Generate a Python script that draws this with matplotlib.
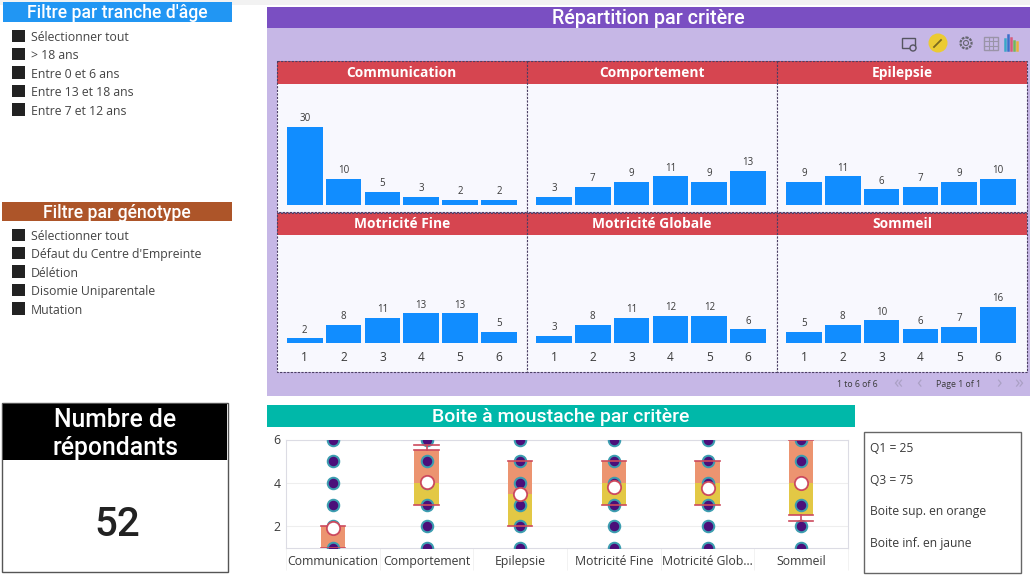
import matplotlib
matplotlib.use('Agg')
import matplotlib.pyplot as plt
from matplotlib.patches import Rectangle, Circle
import numpy as np

W, H = 1030, 582

age_items = ['Sélectionner tout', '> 18 ans', 'Entre 0 et 6 ans', 'Entre 13 et 18 ans', 'Entre 7 et 12 ans']
geno_items = ['Sélectionner tout', "Défaut du Centre d'Empreinte", 'Délétion', 'Disomie Uniparentale', 'Mutation']

x_bars = [1, 2, 3, 4, 5, 6]
communication = [30, 10, 5, 3, 2, 2]
comportement = [3, 7, 9, 11, 9, 13]
epilepsie = [9, 11, 6, 7, 9, 10]
motricite_fine = [2, 8, 11, 13, 13, 5]
motricite_globale = [3, 8, 11, 12, 12, 6]
sommeil = [5, 8, 10, 6, 7, 16]

box_labels = ['Communication', 'Comportement', 'Epilepsie', 'Motricité Fine', 'Motricité Glob...', 'Sommeil']
q1 = [1, 3, 2, 3, 3, 2.5]
med = [1, 4, 3.5, 4, 4, 4]
q3 = [2, 5.5, 5, 5, 5, 6]
whisk_low = [1, 3, 2, 3, 3, 2.25]
whisk_high = [2, 5.75, 5, 5, 5, 6]
means = [1.9, 4.05, 3.5, 3.8, 3.75, 4.0]
dot_levels = [1, 2, 3, 4, 5, 6]

notes = ['Q1 = 25', 'Q3 = 75', 'Boite sup. en orange', 'Boite inf. en jaune']

TXT = '#3a3a3a'
BLUE = '#118DFF'
RED = '#D64550'
UI = 'Open Sans'
HEAD = 'Roboto'

fig = plt.figure(figsize=(W / 100, H / 100), dpi=100, facecolor='white')


def px_axes(l, t, r, b, **kw):
    return fig.add_axes([l / W, 1 - b / H, (r - l) / W, (b - t) / H], **kw)


# background layer in pixel coordinates
bg = fig.add_axes([0, 0, 1, 1], zorder=0)
bg.set_xlim(0, W)
bg.set_ylim(H, 0)
bg.axis('off')


def rect(l, t, r, b, **kw):
    kw.setdefault('lw', 0)
    bg.add_patch(Rectangle((l, t), r - l, b - t, **kw))


def header(l, t, r, b, color, text, size, weight='medium', family=HEAD):
    rect(l, t, r, b, fc=color)
    bg.text((l + r) / 2, (t + b) / 2 + 1, text, color='white', fontsize=size, ha='center',
            va='center', family=family, fontweight=weight)


def slicer(items, y0):
    for i, s in enumerate(items):
        y = y0 + i * 18.4
        rect(12, y - 6.5, 25, y + 6, fc='#222222')
        bg.text(31, y + 1.5, s, fontsize=8.8, color='#444444', family=UI, va='center')


rect(0, 0, W, 5, fc='#f2f2f2')

# slicers
header(3, 2, 232, 22, '#2196F3', "Filtre par tranche d'âge", 12.7)
slicer(age_items, 36)
header(2, 202, 232, 221, '#AD5529', 'Filtre par génotype', 12.7)
slicer(geno_items, 235)

# respondents card
rect(2, 403, 228, 572, fc='white', ec='#555555', lw=1)
rect(3, 404, 227, 460, fc='black')
bg.text(115, 434, 'Numbre de\nrépondants', color='white', fontsize=17.8, ha='center', va='center',
        family=HEAD, fontweight='medium', linespacing=1.2)
bg.text(117, 525, '52', color='#222222', fontsize=29, ha='center', va='center', family=HEAD,
        fontweight='medium')

# small multiples panel
rect(267, 28, 1030, 396, fc='#C6B7E6')
header(267, 7, 1030, 28, '#7A4FC2', 'Répartition par critère', 14.2)

col_x = [(277, 526.5), (527, 776.5), (777, 1027)]
rows = [(61, 84, 212, 205, 2.6), (213, 235, 372, 343, 2.27)]
panels = [('Communication', communication), ('Comportement', comportement), ('Epilepsie', epilepsie),
          ('Motricité Fine', motricite_fine), ('Motricité Globale', motricite_globale), ('Sommeil', sommeil)]

for i, (name, vals) in enumerate(panels):
    l, r = col_x[i % 3]
    t, hb, b, base, scale = rows[i // 3]
    rect(l, hb, r, b, fc='#F8F8FE')
    rect(l, t, r, hb, fc=RED)
    bg.text((l + r) / 2, (t + hb) / 2 + 0.5, name, color='white', fontsize=9.9, ha='center', va='center',
            family=UI, fontweight='bold')
    bg.add_patch(Rectangle((l, t), r - l, b - t, fc='none', ec='#4b3f63', lw=0.8, ls=(0, (2, 1.2))))

    a_l = l + 8.3 if i % 3 == 0 else l + 7.5
    ax = px_axes(a_l, hb, a_l + 233, base, zorder=2)
    ax.patch.set_alpha(0)
    ax.bar(x_bars, vals, width=0.92, color=BLUE)
    ax.set_xlim(0.5, 6.5)
    ax.set_ylim(0, (base - hb) / scale)
    for s in ax.spines.values():
        s.set_visible(False)
    ax.set_yticks([])
    for xv, v in zip(x_bars, vals):
        ax.annotate(str(v), (xv, v), xytext=(0, 2), textcoords='offset points', ha='center', va='bottom',
                    fontsize=7, color=TXT, family=UI)
    if i // 3 == 1:
        ax.set_xticks(x_bars)
        ax.tick_params(axis='x', length=0, pad=6, labelsize=8.6, labelcolor=TXT)
        for lab in ax.get_xticklabels():
            lab.set_family(UI)
    else:
        ax.set_xticks([])

# pagination
bg.text(857, 384.5, '1 to 6 of 6', fontsize=6.3, color=TXT, ha='center', va='center', family=UI)
bg.text(958, 384.5, 'Page 1 of 1', fontsize=6.3, color=TXT, ha='center', va='center', family=UI)
for xp, s in [(898, '«'), (919, '‹'), (999, '›'), (1019, '»')]:
    bg.text(xp, 383, s, fontsize=13, color='#aaa0c4', ha='center', va='center', family=UI)

# toolbar icons
rect(902, 38, 915, 48, fc='none', ec='#555560', lw=1)
bg.add_patch(Circle((913, 48), 3, fc='#C6B7E6', ec='#555560', lw=1))
bg.add_patch(Circle((938, 43), 9.5, fc='#EBCB33', lw=0))
bg.plot([934, 941], [47, 40], color='#7a6a20', lw=1.3)
bg.add_patch(Circle((966, 43), 5.5, fc='none', ec='#666670', lw=1.6, ls=(0, (1.2, 0.5))))
bg.add_patch(Circle((966, 43), 2.5, fc='none', ec='#666670', lw=0.8))
rect(984, 37, 998, 50, fc='none', ec='#9a94a8', lw=1)
bg.plot([988.7, 988.7], [37, 50], color='#9a94a8', lw=0.8)
bg.plot([993.3, 993.3], [37, 50], color='#9a94a8', lw=0.8)
bg.plot([984, 998], [41.3, 41.3], color='#9a94a8', lw=0.8)
bg.plot([984, 998], [45.7, 45.7], color='#9a94a8', lw=0.8)
for xp, top, c in [(1005, 39, '#3aa6c9'), (1008, 35, '#3a6fc9'), (1011, 38, '#d65a7a'),
                   (1014, 41, '#6fb85a'), (1017, 42, '#e8b23a')]:
    bg.plot([xp, xp], [top, 50], color=c, lw=1.8)

# box plot
header(267, 405, 855, 427, '#00B8A9', 'Boite à moustache par critère', 14)

ax = px_axes(286, 439.5, 848, 548, zorder=2)
ax.set_xlim(-0.5, 5.5)
ax.set_ylim(1, 6)
xs = np.arange(len(box_labels))
ax.yaxis.grid(True, color='#eeeeee', lw=0.8)
ax.set_axisbelow(True)
ax.bar(xs, np.array(med) - np.array(q1), bottom=q1, width=0.26, color='#E3C845', zorder=2)
ax.bar(xs, np.array(q3) - np.array(med), bottom=med, width=0.26, color='#EC9470', zorder=2)
for x in xs:
    ax.scatter([x] * len(dot_levels), dot_levels, s=76, color='#3B9DB0', zorder=3)
    ax.scatter([x] * len(dot_levels), dot_levels, s=34, color='#4B0F7A', zorder=4)
    for v in (q1[x], q3[x]):
        ax.plot([x - 0.13, x + 0.13], [v, v], color='#CC4A5E', lw=1.2, zorder=5)
    ax.plot([x, x], [q3[x], whisk_high[x]], color='#CC4A5E', lw=1.2, zorder=5)
    ax.plot([x, x], [whisk_low[x], q1[x]], color='#CC4A5E', lw=1.2, zorder=5)
    if whisk_high[x] != q3[x]:
        ax.plot([x - 0.13, x + 0.13], [whisk_high[x]] * 2, color='#CC4A5E', lw=1.2, zorder=5)
    if whisk_low[x] != q1[x]:
        ax.plot([x - 0.13, x + 0.13], [whisk_low[x]] * 2, color='#CC4A5E', lw=1.2, zorder=5)
ax.scatter(xs, means, s=92, fc='white', ec='#CC4A5E', lw=1.3, zorder=6)
for s in ax.spines.values():
    s.set_color('#dcdce4')
    s.set_linewidth(0.8)
ax.set_xticks(xs)
ax.set_xticklabels(box_labels, fontsize=8.8, color=TXT, family=UI)
ax.set_xticks(np.arange(-0.5, 6, 1), minor=True)
ax.tick_params(axis='x', which='major', length=0, pad=5)
ax.tick_params(axis='x', which='minor', length=16, color='#f0f0f0')
ax.set_yticks([2, 4, 6])
ax.tick_params(axis='y', length=0, labelsize=8.8, labelcolor=TXT, pad=4)
for lab in ax.get_yticklabels():
    lab.set_family(UI)

# notes box
rect(864, 432, 1021, 573, fc='white', ec='#666666', lw=1)
for y, s in zip([449, 480, 512, 543], notes):
    bg.text(870, y, s, fontsize=8.7, color=TXT, va='center', family=UI)

fig.savefig('out.png', dpi=100)
